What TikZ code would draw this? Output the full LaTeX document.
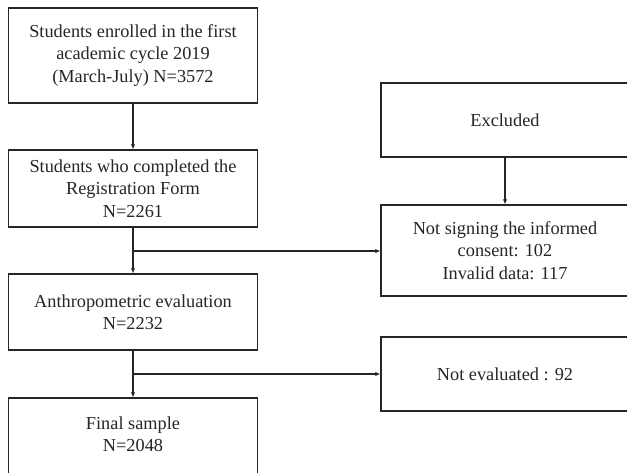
\documentclass[tikz,border=0pt]{standalone}
\usepackage{fontspec}
\setmainfont{Liberation Serif}
\usetikzlibrary{arrows.meta}
\tikzset{
  txt/.style={align=center, font=\fontsize{18.3}{22.5}\selectfont, text=black!85},
  box/.style={draw=black!85, line width=1.4pt, rectangle, inner sep=0pt, txt},
  conn/.style={draw=black!85, line width=1.5pt, -{Latex[length=5pt,width=4.5pt]}},
}
\begin{document}
\begin{tikzpicture}[x=1pt,y=-1pt]
\useasboundingbox (0,0) rectangle (627,472);
\clip (0,0) rectangle (627,472);
\fill[white] (0,0) rectangle (627,472);
\node[box, minimum width=249pt, minimum height=95pt] (s1) at (133,55.5)
  {Students enrolled in the first\\academic cycle 2019\\(March-July) N=3572};
\node[box, minimum width=249pt, minimum height=77pt] (s2) at (133,188.5)
  {Students who completed the\\Registration Form\\N=2261};
\node[box, minimum width=249pt, minimum height=76pt] (s3) at (133,312)
  {Anthropometric evaluation\\N=2232};
\node[box, minimum width=249pt, minimum height=84pt,
  label={[txt, yshift=6pt]center:{Final sample\\N=2048}}] (s4) at (133,440) {};
\node[box, minimum width=248pt, minimum height=74pt] (e1) at (505,120)
  {Excluded};
\node[box, minimum width=248pt, minimum height=91pt] (e2) at (505,250.5)
  {Not signing the informed\\consent: 102\\Invalid data: 117};
\node[box, minimum width=248pt, minimum height=74pt] (e3) at (505,374)
  {Not evaluated : 92};
\coordinate (b1) at (s2.south |- 0,251);
\coordinate (b2) at (s3.south |- 0,374);
\draw[conn] (s1) -- (s2);
\draw[conn] (s2) -- (s3);
\draw[conn] (s3) -- (s4);
\draw[conn] (e1) -- (e2);
\draw[conn] (b1) -- (b1 -| e2.west);
\draw[conn] (b2) -- (e3.west);
\end{tikzpicture}
\end{document}
